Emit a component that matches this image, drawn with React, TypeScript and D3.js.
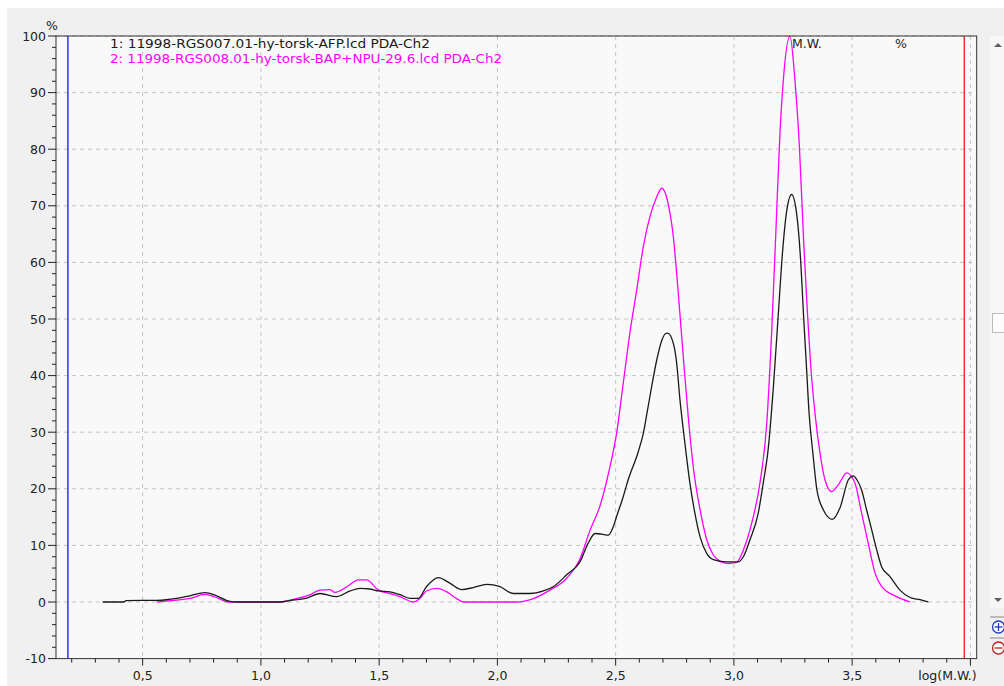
import React from "react";
import * as d3 from "d3";

// ---- Data (log(M.W.), %) ----
const series1X = [0.331,0.42,0.43,0.56,0.60,0.644,0.70,0.764,0.813,0.869,0.90,1.08,1.123,1.19,1.25,1.32,1.377,1.419,1.46,1.497,1.546,1.588,1.63,1.665,1.70,1.75,1.80,1.849,1.898,1.955,2.011,2.067,2.138,2.194,2.236,2.293,2.349,2.384,2.413,2.44,2.469,2.49,2.504,2.532,2.553,2.596,2.617,2.631,2.652,2.674,2.695,2.71,2.72,2.744,2.758,2.772,2.793,2.814,2.835,2.857,2.885,2.913,2.97,3.019,3.04,3.068,3.103,3.124,3.145,3.167,3.188,3.206,3.223,3.244,3.265,3.283,3.294,3.306,3.318,3.334,3.351,3.378,3.416,3.45,3.484,3.505,3.52,3.54,3.561,3.583,3.604,3.625,3.66,3.702,3.745,3.787,3.822];
const series1Y = [0,0,0.25,0.3,0.4,0.65,1.1,1.65,1.1,0.1,0,0,0.25,0.65,1.5,0.95,1.95,2.4,2.3,1.95,1.8,1.3,0.65,0.65,2.7,4.3,3.3,2.2,2.55,3.1,2.7,1.5,1.5,1.95,2.7,4.8,7.1,10.4,12.1,12.0,11.8,13.3,15.1,18.6,21.6,26.6,29.8,33,38,42.8,46.2,47.4,47.5,45.7,42.2,35.7,28,21,15.7,11.5,8.6,7.5,7.1,7.1,8,11,15.7,21,27,38,51,62,69,72,68.7,59.8,51,42.2,33.3,26.3,19.8,16.3,14.6,16.8,21.6,22.3,21.6,19.8,16.3,12.7,9.2,6.2,4.5,2.1,0.8,0.4,0];

const series2X = [0.56,0.61,0.70,0.764,0.82,0.86,1.08,1.14,1.207,1.25,1.292,1.313,1.364,1.412,1.447,1.497,1.546,1.588,1.645,1.673,1.70,1.743,1.786,1.828,1.856,2.08,2.152,2.222,2.293,2.349,2.392,2.434,2.476,2.504,2.532,2.56,2.589,2.617,2.645,2.674,2.695,2.722,2.744,2.765,2.786,2.807,2.828,2.857,2.885,2.913,2.948,2.976,3.011,3.04,3.075,3.11,3.139,3.16,3.178,3.195,3.209,3.237,3.258,3.277,3.296,3.311,3.325,3.343,3.364,3.385,3.413,3.44,3.477,3.512,3.54,3.568,3.597,3.625,3.688,3.745];
const series2Y = [0,0.2,0.65,1.35,0.65,0,0,0.5,1.25,2.1,2.2,1.7,2.7,3.9,3.9,2.1,1.5,0.95,0,0.65,1.95,2.4,1.8,0.6,0,0,0.6,2.1,4.2,7.6,12.7,17,23.9,29.8,38.6,47.5,55.1,62.8,68.1,71.6,73.1,70.4,64.5,54.5,43.3,32.7,23.9,16.3,11,8.3,7.1,6.8,7.0,9.2,13.9,21,31.6,48,66,83,92.2,100,92.2,80.4,62.8,51,41.6,33.3,26.3,21.6,19.5,20.6,22.8,21,15.7,10.4,5.1,2.7,0.95,0];

const legendLines = [
  "1: 11998-RGS007.01-hy-torsk-AFP.lcd PDA-Ch2",
  "2: 11998-RGS008.01-hy-torsk-BAP+NPU-29.6.lcd PDA-Ch2",
];
const seriesColors = ["#1a1a1a", "#ff00ff"];
const xMajorTicks = [0.5, 1.0, 1.5, 2.0, 2.5, 3.0, 3.5, 4.0];
const xTickLabels = ["0,5", "1,0", "1,5", "2,0", "2,5", "3,0", "3,5", "log(M.W.)"];
const yMajorTicks = [-10, 0, 10, 20, 30, 40, 50, 60, 70, 80, 90, 100];
const blueMarker = 0.184;
const redMarker = 3.974;

const W = 1004, H = 686;
const L = 56, R = 976.7, T = 36, B = 658.6;
const X_MIN = (L - 24.4) / 236.5;
const X_MAX = (R - 24.4) / 236.5;

export default function App() {
  const x = d3.scaleLinear().domain([X_MIN, X_MAX]).range([L, R]);
  const y = d3.scaleLinear().domain([-10, 100]).range([B, T]);
  const line = d3.line<[number, number]>().x(d => x(d[0])).y(d => y(d[1])).curve(d3.curveMonotoneX);
  const d1 = line(series1X.map((v, i) => [v, series1Y[i]] as [number, number])) || "";
  const d2 = line(series2X.map((v, i) => [v, series2Y[i]] as [number, number])) || "";
  const minorX = d3.range(2, 41).map(i => i / 10).filter(v => Math.abs(v * 2 - Math.round(v * 2)) > 1e-6);
  const minorY = d3.range(-10, 101, 2).filter(v => v % 10 !== 0);
  const font = "'DejaVu Sans', Verdana, sans-serif";
  const grid = "#c4c4c4";

  return (
    <svg width={W} height={H} style={{ position: "absolute", left: 0, top: 0, display: "block" }} fontFamily={font}>
      <rect x={0} y={0} width={W} height={H} fill="#ffffff" />
      <rect x={7} y={8} width={W - 7} height={H - 8} fill="#f0f0f0" />
      <rect x={L} y={T} width={R - L} height={B - T} fill="#f9f9f9" />
      {/* grid */}
      {yMajorTicks.filter(v => v > -10).map(v => (
        <line key={"gy" + v} x1={L} x2={R} y1={y(v)} y2={y(v)} stroke={grid} strokeDasharray="4,4" strokeWidth={1} />
      ))}
      {xMajorTicks.map(v => (
        <line key={"gx" + v} x1={x(v)} x2={x(v)} y1={T} y2={B} stroke={grid} strokeDasharray="4,4" strokeWidth={1} />
      ))}
      {/* markers */}
      <line x1={x(blueMarker)} x2={x(blueMarker)} y1={T} y2={B} stroke="#0000ff" strokeWidth={1.2} />
      <line x1={x(redMarker)} x2={x(redMarker)} y1={T} y2={B} stroke="#ff0000" strokeWidth={1.2} />
      {/* curves */}
      <path d={d2} fill="none" stroke={seriesColors[1]} strokeWidth={1.3} />
      <path d={d1} fill="none" stroke={seriesColors[0]} strokeWidth={1.3} />
      {/* frame */}
      <rect x={L} y={T} width={R - L} height={B - T} fill="none" stroke="#333" strokeWidth={1} />
      {/* y ticks */}
      {yMajorTicks.map(v => (
        <g key={"ty" + v}>
          <line x1={L - 8} x2={L} y1={y(v)} y2={y(v)} stroke="#222" />
          <text x={L - 10} y={y(v)} dy="0.36em" textAnchor="end" fontSize={12.5} fill="#222">{v}</text>
        </g>
      ))}
      {minorY.map(v => (
        <line key={"my" + v} x1={L - 4} x2={L} y1={y(v)} y2={y(v)} stroke="#222" />
      ))}
      <text x={L - 4} y={T - 6} textAnchor="middle" fontSize={12.5} fill="#222">%</text>
      {/* x ticks */}
      {xMajorTicks.map((v, i) => (
        <g key={"tx" + v}>
          <line x1={x(v)} x2={x(v)} y1={B} y2={B + 7} stroke="#222" />
          <text x={i === xMajorTicks.length - 1 ? R : x(v)} y={680} textAnchor={i === xMajorTicks.length - 1 ? "end" : "middle"} fontSize={12.5} fill="#222">{xTickLabels[i]}</text>
        </g>
      ))}
      {minorX.map(v => (
        <line key={"mx" + v} x1={x(v)} x2={x(v)} y1={B} y2={B + 4} stroke="#222" />
      ))}
      {/* legend */}
      <text x={110} y={48} fontSize={12.5} fill={seriesColors[0]} textLength={320} lengthAdjust="spacingAndGlyphs">{legendLines[0]}</text>
      <text x={110} y={63} fontSize={12.5} fill={seriesColors[1]} textLength={392} lengthAdjust="spacingAndGlyphs">{legendLines[1]}</text>
      <text x={792} y={48} fontSize={12.5} fill="#222">M.W.</text>
      <text x={895} y={48} fontSize={12.5} fill="#222">%</text>
      {/* scrollbar */}
      <rect x={990} y={36} width={14} height={572} fill="#f7f7f7" />
      <path d="M994,47 L998,43 L1002,47 Z" fill="#606060" />
      <path d="M994,598 L998,602 L1002,598 Z" fill="#606060" />
      <rect x={992.5} y={313.5} width={12} height={19} fill="#fdfdfd" stroke="#bcbcbc" />
      <line x1={990} x2={1004} y1={617} y2={617} stroke="#888" />
      <line x1={990} x2={1004} y1={638} y2={638} stroke="#888" />
      <circle cx={998.5} cy={627} r={6} fill="#fff" stroke="#2040c0" strokeWidth={1.3} />
      <line x1={994.5} x2={1002.5} y1={627} y2={627} stroke="#2040c0" strokeWidth={1.3} />
      <line x1={998.5} x2={998.5} y1={623} y2={631} stroke="#2040c0" strokeWidth={1.3} />
      <circle cx={998.5} cy={648} r={6} fill="#fff" stroke="#c02020" strokeWidth={1.3} />
      <line x1={994.5} x2={1002.5} y1={648} y2={648} stroke="#c02020" strokeWidth={1.3} />
    </svg>
  );
}
